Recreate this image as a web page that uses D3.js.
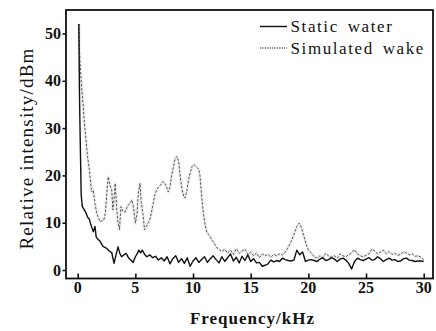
<!DOCTYPE html>
<html><head><meta charset="utf-8"><script src="https://cdn.jsdelivr.net/npm/d3@7"></script></head>
<body style="margin:0">
<div id="t"></div>
<script>
// Static water (solid line)
const staticFreq = [0.1, 0.15, 0.2, 0.3, 0.4, 0.55, 0.7, 0.85, 1.0, 1.1, 1.25, 1.35, 1.5, 1.6, 1.75, 1.9,
  2.05, 2.2, 2.35, 2.5, 2.65, 2.8, 2.95, 3.05, 3.15, 3.3, 3.5, 3.65, 3.8, 4.0, 4.2, 4.4, 4.6, 4.8,
  5.0, 5.15, 5.3, 5.45, 5.6, 5.8, 6.0, 6.25, 6.5, 6.75, 7.0, 7.25, 7.5, 7.75, 8.0, 8.25, 8.5, 8.75,
  9.0, 9.25, 9.5, 9.75, 10.0, 10.25, 10.5, 10.75, 11.0, 11.25, 11.5, 11.75, 12.0, 12.25, 12.5, 12.75,
  13.0, 13.25, 13.5, 13.75, 14.0, 14.25, 14.5, 14.75, 15.0, 15.25, 15.5, 15.75, 16.0, 16.25, 16.5, 16.75,
  17.0, 17.25, 17.5, 17.75, 18.0, 18.25, 18.5, 18.75, 19.0, 19.25, 19.5, 19.75, 20.0, 20.25, 20.5, 20.75,
  21.0, 21.25, 21.5, 21.75, 22.0, 22.25, 22.5, 22.75, 23.0, 23.25, 23.5, 23.75, 24.0, 24.25, 24.5, 24.75,
  25.0, 25.25, 25.5, 25.75, 26.0, 26.25, 26.5, 26.75, 27.0, 27.25, 27.5, 27.75, 28.0, 28.25, 28.5, 28.75,
  29.0, 29.25, 29.5, 29.75, 30.0];
const staticWater = [52, 38, 30, 16, 13.4, 12.8, 12.2, 11.2, 10.8, 9.9, 8.8, 8.1, 9.2, 7.0, 6.5, 6.2,
  5.6, 5.0, 4.8, 4.6, 4.2, 3.9, 3.7, 2.5, 1.4, 3.0, 4.9, 3.5, 2.8, 3.2, 3.5, 2.6, 2.1, 1.6,
  2.8, 3.4, 4.2, 3.6, 4.2, 3.3, 2.8, 3.2, 2.6, 2.9, 2.1, 2.6, 1.9, 2.8, 1.3, 2.4, 3.0, 1.6,
  2.4, 1.4, 2.6, 0.8, 1.9, 2.6, 1.6, 2.2, 2.8, 1.6, 2.4, 3.0, 2.2, 1.5, 2.8, 1.8,
  2.6, 3.4, 1.9, 2.7, 1.5, 2.9, 2.0, 3.2, 1.8, 2.4, 1.5, 1.6, 0.8, 1.0, 1.3, 2.1,
  1.7, 2.0, 1.8, 2.5, 2.2, 2.0, 1.9, 2.1, 4.2, 3.2, 3.8, 1.8, 2.1, 2.2, 2.0, 1.8,
  2.3, 2.6, 2.0, 2.2, 2.6, 2.3, 1.8, 2.3, 2.5, 2.1, 1.4, 0.2, 1.8, 2.5, 2.2, 2.0,
  2.3, 2.6, 2.1, 2.2, 2.8, 2.4, 1.8, 2.2, 2.5, 2.1, 2.2, 1.8, 1.9, 2.4, 2.5, 2.1,
  2.0, 1.8, 1.9, 1.9, 1.8];

// Simulated wake (dotted line)
const wakeFreq = [0.1, 0.15, 0.2, 0.3, 0.4, 0.55, 0.7, 0.85, 1.0, 1.2, 1.35, 1.5, 1.65, 1.8, 1.95, 2.1,
  2.25, 2.4, 2.55, 2.65, 2.8, 2.95, 3.05, 3.15, 3.25, 3.4, 3.5, 3.62, 3.75, 3.9, 4.1, 4.3, 4.5, 4.7,
  4.85, 5.0, 5.15, 5.25, 5.4, 5.5, 5.65, 5.8, 5.95, 6.1, 6.3, 6.5, 6.7, 6.85, 7.0, 7.2, 7.4, 7.55,
  7.7, 7.85, 8.0, 8.15, 8.3, 8.45, 8.6, 8.75, 8.9, 9.05, 9.2, 9.3, 9.45, 9.6, 9.75, 9.9, 10.05, 10.2,
  10.35, 10.5, 10.6, 10.75, 10.9, 11.05, 11.2, 11.35, 11.5, 11.65, 11.8, 11.95, 12.1, 12.3, 12.5, 12.75,
  13.0, 13.25, 13.5, 13.75, 14.0, 14.25, 14.5, 14.75, 15.0, 15.25, 15.5, 15.75, 16.0, 16.25, 16.5, 16.75,
  17.0, 17.25, 17.5, 17.75, 18.0, 18.25, 18.5, 18.75, 19.0, 19.2, 19.4, 19.6, 19.8, 20.0, 20.25, 20.5,
  20.75, 21.0, 21.25, 21.5, 21.75, 22.0, 22.25, 22.5, 22.75, 23.0, 23.25, 23.5, 23.75, 24.0, 24.25, 24.5,
  24.75, 25.0, 25.25, 25.5, 25.75, 26.0, 26.25, 26.5, 26.75, 27.0, 27.25, 27.5, 27.75, 28.0, 28.25, 28.5,
  28.75, 29.0, 29.25, 29.5, 29.75, 30.0];
const simulatedWake = [52, 47, 44, 40, 37, 32, 28, 24, 21.5, 16.5, 16.9, 14, 12, 11, 10.2, 10.4,
  10.5, 12, 17, 19.7, 18, 16.9, 12.7, 15, 18.3, 12.5, 10, 8.5, 13.4, 12.5, 12.2, 13.4, 14, 14.8,
  13, 9.9, 12, 16, 18.3, 14.5, 12, 8.5, 9.2, 9.9, 11, 13.5, 16, 16.9, 17.5, 18, 18.7, 18.3,
  17.6, 16.5, 17.5, 20, 21.8, 23.5, 24, 23, 19.5, 17, 15.5, 15.2, 16.5, 19, 20.5, 21.8, 22.3, 22,
  21.6, 21.3, 20, 15.5, 12, 9.5, 8, 7.5, 7, 6.3, 5.8, 5.2, 4.6, 4.3, 3.9, 4.4,
  3.6, 4.2, 3.3, 4.5, 3.5, 4.0, 4.4, 3.3, 3.8, 3.0, 3.6, 2.6, 3.4, 3.0, 3.3, 2.7,
  3.3, 3.0, 3.4, 3.2, 3.8, 4.8, 6.0, 7.5, 9.2, 9.9, 9.0, 7.2, 5.6, 4.2, 3.6, 2.8,
  2.5, 3.0, 2.6, 3.5, 3.0, 2.7, 3.0, 2.5, 3.4, 3.0, 2.8, 3.2, 3.6, 4.3, 3.4, 3.0,
  2.8, 3.1, 3.4, 4.4, 4.0, 3.4, 3.8, 4.2, 3.4, 3.9, 3.3, 3.5, 3.1, 3.3, 3.8, 3.6,
  3.2, 3.4, 2.9, 3.0, 2.7, 2.2];

const xTicks = [0, 5, 10, 15, 20, 25, 30];
const yTicks = [0, 10, 20, 30, 40, 50];
const legendLabels = ["Static water", "Simulated wake"];

const FONT = "Liberation Serif";
const frame = { left: 66, right: 433, top: 10, bottom: 278.5 };

const svg = d3.select("#t").append("svg")
  .attr("width", 436).attr("height", 331)
  .style("display", "block");

const x = d3.scaleLinear().domain([0, 30]).range([77.7, 423.7]);
const y = d3.scaleLinear().domain([0, 50]).range([270, 33.5]);

const staticData = staticFreq.map((f, i) => [f, staticWater[i]]);
const wakeData = wakeFreq.map((f, i) => [f, simulatedWake[i]]);
const line = d3.line().x(d => x(d[0])).y(d => y(d[1]));

// faint grey halo like the scanned original
svg.append("path").datum(wakeData).attr("d", line)
  .attr("fill", "none").attr("stroke", "#f0f0f0").attr("stroke-width", 3.5).attr("stroke-linejoin", "round");
svg.append("path").datum(wakeData).attr("d", line)
  .attr("fill", "none").attr("stroke", "#555").attr("stroke-width", 1)
  .attr("stroke-dasharray", "2.5,1.5");
svg.append("path").datum(staticData).attr("d", line)
  .attr("fill", "none").attr("stroke", "#111").attr("stroke-width", 1.4).attr("stroke-linejoin", "round");

svg.append("rect")
  .attr("x", frame.left).attr("y", frame.top)
  .attr("width", frame.right - frame.left).attr("height", frame.bottom - frame.top)
  .attr("fill", "none").attr("stroke", "#111").attr("stroke-width", 1.8);

// axes: ticks drawn by d3, labels written as plain text elements
const xAxis = svg.append("g").attr("transform", `translate(0,${frame.bottom})`)
  .call(d3.axisBottom(x).tickValues(xTicks).tickSize(-5).tickFormat(""));
xAxis.select(".domain").remove();
xAxis.selectAll(".tick line").attr("stroke", "#111").attr("stroke-width", 1.6);

const yAxis = svg.append("g").attr("transform", `translate(${frame.left},0)`)
  .call(d3.axisLeft(y).tickValues(yTicks).tickSize(3.5).tickFormat(""));
yAxis.select(".domain").remove();
yAxis.selectAll(".tick line").attr("stroke", "#111").attr("stroke-width", 1.6);

svg.selectAll("text.xlab").data(xTicks).join("text").attr("class", "xlab")
  .attr("x", d => x(d)).attr("y", 293)
  .attr("text-anchor", "middle")
  .style("font-family", FONT).style("font-size", "16px").style("font-weight", "bold").style("fill", "#111")
  .text(d => d);

svg.selectAll("text.ylab").data(yTicks).join("text").attr("class", "ylab")
  .attr("x", frame.left - 5).attr("y", d => y(d) + 5.5)
  .attr("text-anchor", "end")
  .style("font-family", FONT).style("font-size", "16px").style("font-weight", "bold").style("fill", "#111")
  .text(d => d);

svg.append("text")
  .attr("x", 252.5).attr("y", 324)
  .attr("text-anchor", "middle")
  .style("font-family", FONT).style("font-size", "17px").style("font-weight", "bold")
  .style("letter-spacing", "1px").style("fill", "#111")
  .text("Frequency/kHz");

svg.append("text")
  .attr("transform", "translate(33,148.5) rotate(-90)")
  .attr("text-anchor", "middle")
  .style("font-family", FONT).style("font-size", "19px")
  .style("letter-spacing", "1.2px").style("fill", "#111")
  .text("Relative intensity/dBm");

legendLabels.forEach((label, i) => {
  const ly = 26.5 + i * 21.5;
  svg.append("line")
    .attr("x1", 260).attr("x2", 287).attr("y1", ly).attr("y2", ly)
    .attr("stroke", "#111").attr("stroke-width", i === 0 ? 1.4 : 1.2)
    .attr("stroke-dasharray", i === 0 ? null : "1.2,1.2");
  svg.append("text")
    .attr("x", 290.5).attr("y", ly + 5.5)
    .style("font-family", FONT).style("font-size", "17px")
    .style("letter-spacing", "1.6px").style("word-spacing", "3px").style("fill", "#111")
    .text(label);
});
</script></body></html>
